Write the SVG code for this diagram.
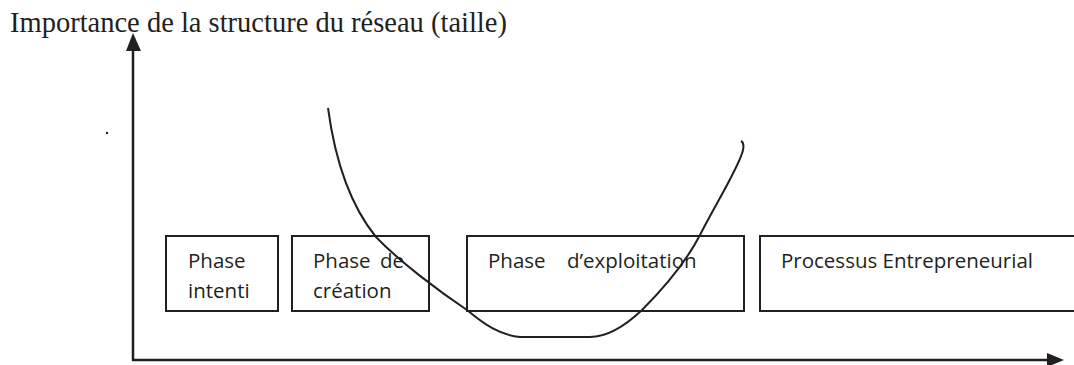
<svg xmlns="http://www.w3.org/2000/svg" width="1074" height="365" viewBox="0 0 1074 365">
<style>
.box{fill:#fff;stroke:#231f20;stroke-width:2}
.lbl{font-family:"Open Sans","Liberation Sans",sans-serif;font-size:20.5px;fill:#231f20}
.title{font-family:"Liberation Serif","Times New Roman",serif;font-size:28.5px;fill:#231f20}
.axis{stroke:#231f20;stroke-width:2.5;fill:none}
.curve{stroke:#231f20;stroke-width:2;fill:none}
</style>
<rect width="1074" height="365" fill="#fff"/>
<text class="title" x="10" y="32">Importance de la structure du réseau (taille)</text>
<circle cx="107" cy="133" r="1.2" fill="#231f20"/>
<g id="node-intention">
<rect class="box" x="166" y="236" width="112" height="75"/>
<text class="lbl" x="188" y="268">Phase</text>
<text class="lbl" x="188" y="298">intenti</text>
</g>
<g id="node-creation">
<rect class="box" x="292" y="236" width="137" height="75"/>
<text class="lbl" x="313" y="268">Phase<tspan x="380">de</tspan></text>
<text class="lbl" x="313" y="298">création</text>
</g>
<g id="node-exploitation">
<rect class="box" x="467" y="236" width="277" height="75"/>
<text class="lbl" x="488" y="268">Phase<tspan x="567">d’exploitation</tspan></text>
</g>
<g id="node-processus">
<rect class="box" x="760" y="236" width="330" height="75"/>
<text class="lbl" x="781" y="268">Processus Entrepreneurial</text>
</g>
<g id="connectors">
<line class="axis" x1="133" y1="361" x2="133" y2="46"/>
<polygon points="133,33 126,51 141,51" fill="#231f20"/>
<line class="axis" x1="132" y1="360" x2="1050" y2="360"/>
<polygon points="1064,360 1047,353 1047,367" fill="#231f20"/>
<path class="curve" d="M328,108 C335,160 350,205 376,237 C400,262 440,292 467,310 C485,325 500,335 520,337 L590,337 C607,337 624,327 642,310 C662,290 686,262 700,235 C718,200 740,165 743,150 C744,145 743,142 741,141"/>
</g>
</svg>
